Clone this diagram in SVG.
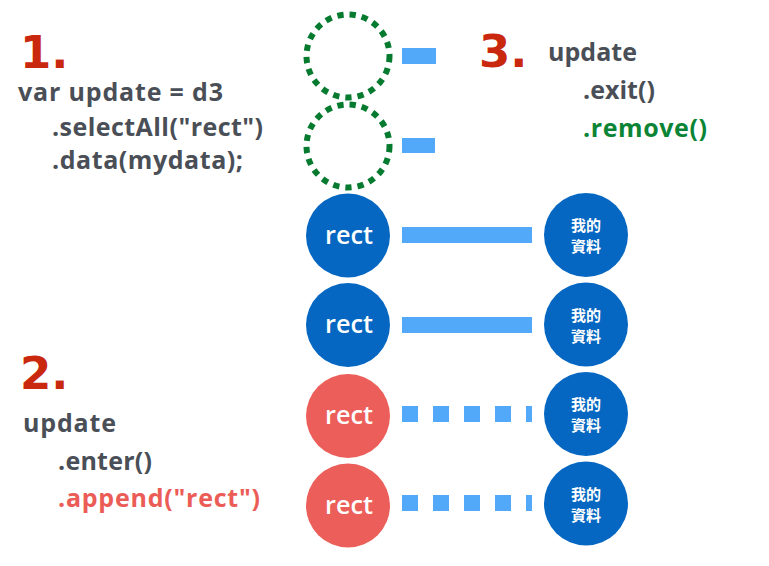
<svg xmlns="http://www.w3.org/2000/svg" width="769" height="566" viewBox="0 0 769 566">
<style>
.num{font-family:"DejaVu Sans","Liberation Sans",sans-serif;font-weight:700;font-size:45px;fill:#C9280F}
.code{font-family:"Open Sans","Liberation Sans",sans-serif;font-weight:700;font-size:25px;fill:#4A4F57}
.red{fill:#EC5C57}
.green{fill:#0B8535}
.ghost{fill:none;stroke:#067B2F;stroke-width:6;stroke-dasharray:6.3 6}
.blue{fill:#0567C1}
.pink{fill:#EC5E59}
.lbl{font-family:"Open Sans","Liberation Sans",sans-serif;font-weight:600;font-size:25px;fill:#fff;text-anchor:middle}
.cjk{font-family:"Noto Sans CJK TC","Noto Sans CJK SC",sans-serif;font-weight:700;font-size:15px;fill:#fff;text-anchor:middle}
.bar{fill:#53A9F9}
.dash{stroke:#53A9F9;stroke-width:16;stroke-dasharray:16 15;fill:none}
</style>
<rect width="769" height="566" fill="#fff"/>
<g id="step1">
<text class="num" x="20" y="68">1.</text>
<text class="code" x="18" y="101" textLength="205" lengthAdjust="spacing">var update = d3</text>
<text class="code" x="52" y="136" textLength="211" lengthAdjust="spacing">.selectAll("rect")</text>
<text class="code" x="52" y="169" textLength="191" lengthAdjust="spacing">.data(mydata);</text>
</g>
<g id="step2">
<text class="num" x="20" y="389">2.</text>
<text class="code" x="23" y="432" textLength="93" lengthAdjust="spacing">update</text>
<text class="code" x="58" y="470" textLength="94" lengthAdjust="spacing">.enter()</text>
<text class="code red" x="58" y="507" textLength="202" lengthAdjust="spacing">.append("rect")</text>
</g>
<g id="step3">
<text class="num" x="479" y="67">3.</text>
<text class="code" x="548" y="61" textLength="89" lengthAdjust="spacing">update</text>
<text class="code" x="583" y="99" textLength="72" lengthAdjust="spacing">.exit()</text>
<text class="code green" x="583" y="137" textLength="124" lengthAdjust="spacing">.remove()</text>
</g>
<g id="exit1"><circle class="ghost" cx="348" cy="56" r="41.5"/></g>
<g id="exit2"><circle class="ghost" cx="348" cy="146" r="41.5"/></g>
<g id="rect1"><circle class="blue" cx="348" cy="235.5" r="42"/><text class="lbl" x="349" y="243.5" textLength="48" lengthAdjust="spacingAndGlyphs">rect</text></g>
<g id="rect2"><circle class="blue" cx="348" cy="325" r="42"/><text class="lbl" x="349" y="333" textLength="48" lengthAdjust="spacingAndGlyphs">rect</text></g>
<g id="rect3"><circle class="pink" cx="348" cy="416" r="42"/><text class="lbl" x="349" y="424" textLength="48" lengthAdjust="spacingAndGlyphs">rect</text></g>
<g id="rect4"><circle class="pink" cx="348" cy="505.5" r="42"/><text class="lbl" x="349" y="513.5" textLength="48" lengthAdjust="spacingAndGlyphs">rect</text></g>
<g id="data1"><circle class="blue" cx="586" cy="235" r="42"/><text class="cjk" x="586" y="231">我的</text><text class="cjk" x="586" y="252">資料</text></g>
<g id="data2"><circle class="blue" cx="586" cy="324.5" r="42"/><text class="cjk" x="586" y="320.5">我的</text><text class="cjk" x="586" y="341.5">資料</text></g>
<g id="data3"><circle class="blue" cx="586" cy="414" r="42"/><text class="cjk" x="586" y="410">我的</text><text class="cjk" x="586" y="431">資料</text></g>
<g id="data4"><circle class="blue" cx="586" cy="503.5" r="42"/><text class="cjk" x="586" y="499.5">我的</text><text class="cjk" x="586" y="520.5">資料</text></g>
<g id="connectors">
<rect class="bar" x="402" y="48" width="34" height="16"/>
<rect class="bar" x="402" y="138" width="33" height="15"/>
<rect class="bar" x="402" y="227" width="130" height="16"/>
<rect class="bar" x="402" y="317" width="130" height="16"/>
<line class="dash" x1="402" y1="414" x2="532" y2="414"/>
<line class="dash" x1="402" y1="503" x2="532" y2="503"/>
</g>
</svg>
